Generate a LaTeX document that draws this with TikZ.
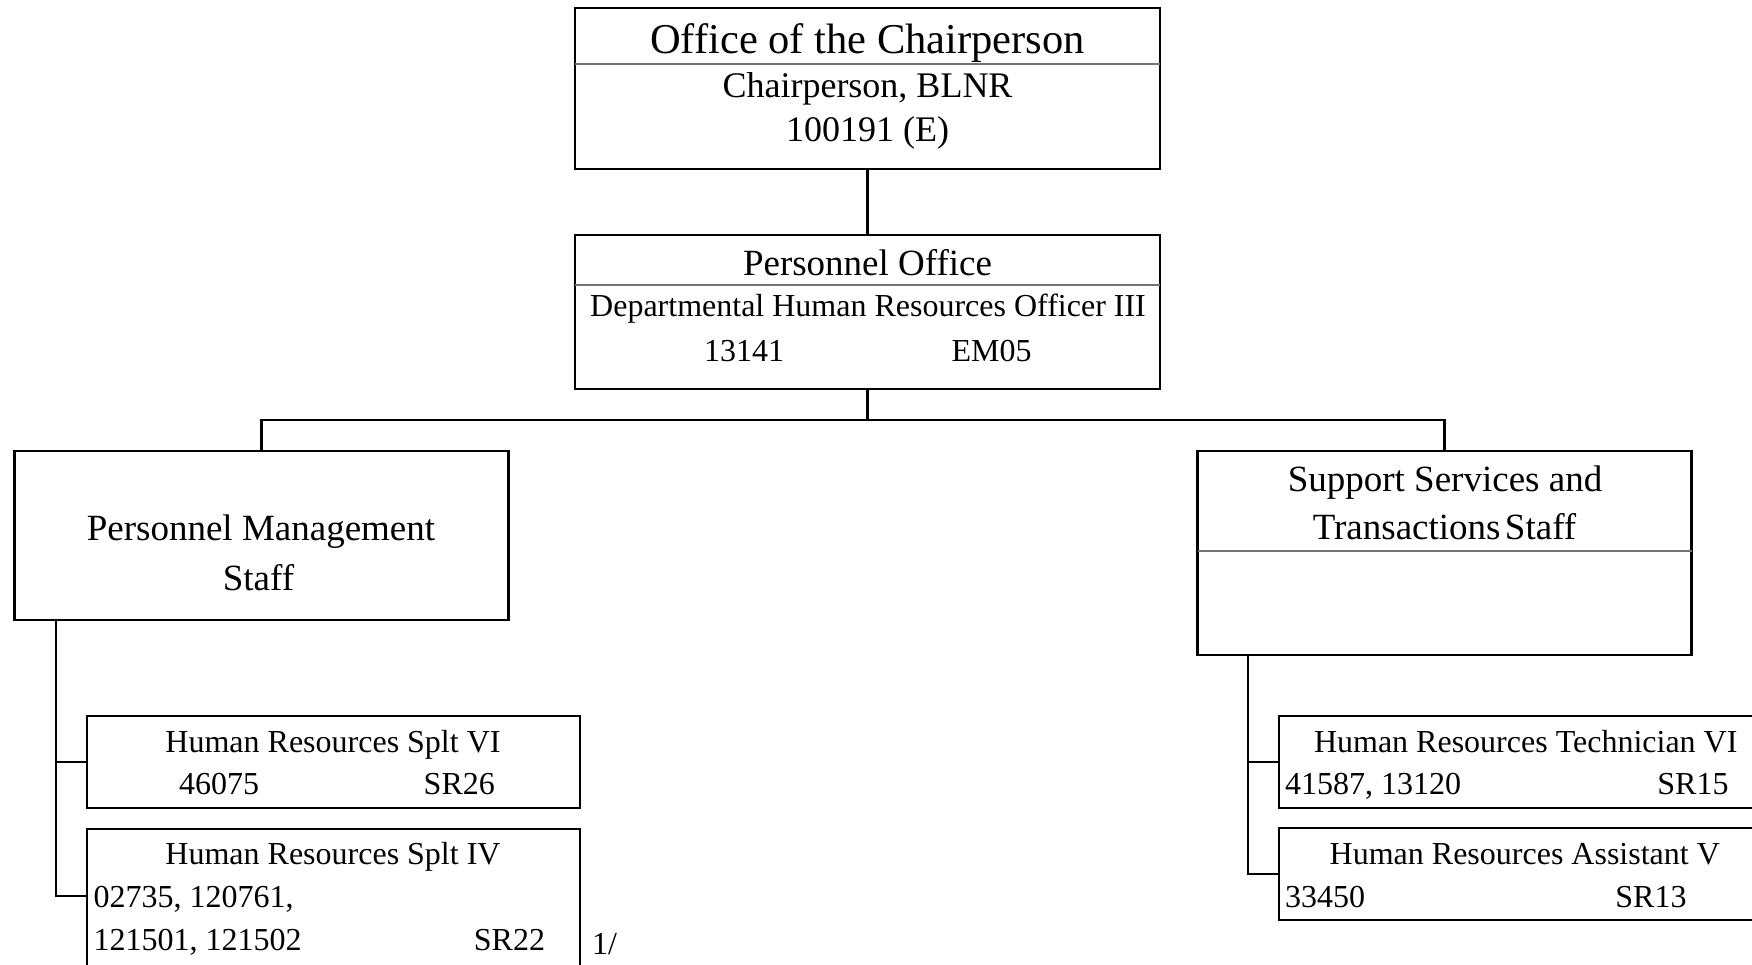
\documentclass[tikz,border=0pt]{standalone}
\usepackage{fontspec}
\setmainfont{Liberation Serif}
\begin{document}
\begin{tikzpicture}[x=1pt,y=-1pt,
  box/.style={draw, line width=2.6pt, inner sep=0pt, outer sep=0pt},
  conn/.style={line width=2.6pt},
  divline/.style={line width=1.3pt, black!55},
  t/.style={inner sep=0pt, anchor=base},
  tw/.style={inner sep=0pt, anchor=base west},
  fA/.style={font=\fontsize{42.5pt}{50pt}\selectfont},
  fB/.style={font=\fontsize{36pt}{42pt}\selectfont},
  fC/.style={font=\fontsize{37pt}{44pt}\selectfont},
  fD/.style={font=\fontsize{32pt}{38pt}\selectfont}]
\useasboundingbox (0,0) rectangle (1752,964);
\clip (0,0) rectangle (1752,964);

% boxes
\node[box, minimum width=585pt, minimum height=161pt] (top) at (867.5,88.5) {};
\node[box, minimum width=585pt, minimum height=154pt] (po) at (867.5,312) {};
\node[box, minimum width=494pt, minimum height=169pt] (pms) at (261.5,535.5) {};
\node[box, minimum width=494pt, minimum height=204pt] (sst) at (1444.7,553) {};
\node[box, minimum width=493pt, minimum height=92pt] (s6) at (333.5,762) {};
\node[box, minimum width=493pt, minimum height=171pt] (s4) at (333.5,914.5) {};
\node[box, minimum width=493pt, minimum height=92pt] (t6) at (1525.5,762) {};
\node[box, minimum width=493pt, minimum height=92pt] (a5) at (1525.5,874) {};

% dividers
\coordinate (d1) at (0,64);
\coordinate (d2) at (0,285);
\coordinate (d3) at (0,551);
\draw[divline] (top.west |- d1) -- (top.east |- d1);
\draw[divline] (po.west |- d2) -- (po.east |- d2);
\draw[divline] (sst.west |- d3) -- (sst.east |- d3);

% connectors
\coordinate (bus) at (867.5,420);
\draw[conn] (top.south) -- (po.north);
\draw[conn] (po.south) -- (bus);
\draw[conn] (pms.north) -- (pms.north |- bus) -- (sst.north |- bus) -- (sst.north);
\coordinate (lt) at ([xshift=41.5pt]pms.south west);
\coordinate (s4j) at ([yshift=-67pt]s4.north west);
\draw[conn] (lt) |- (s6.west);
\draw[conn] (lt) |- (s4j);
\coordinate (rt) at ([xshift=50.3pt]sst.south west);
\draw[conn] (rt) |- (t6.west);
\draw[conn] (rt) |- (a5.west);

% texts
\node[t,fA] (tA) at (867.5,53) {Office of the Chairperson};
\node[t,fB] (tB) at (867.5,97.5) {Chairperson, BLNR};
\node[t,fB] (tC) at (867.5,141) {100191 (E)};
\node[t,fC] (pA) at (867.5,275) {Personnel Office};
\node[t,fD] (pB) at (868,316.5) {Departmental Human Resources Officer III};
\node[t,fD] (pC) at (744,361.5) {13141};
\node[t,fD] (pD) at (991.5,361.5) {EM05};
\node[t,fC] (mA) at (261,540.5) {Personnel Management};
\node[t,fC] (mB) at (258.5,590) {Staff};
\node[t,fC] (sA) at (1445,491.5) {Support Services and};
\node[t,fC] (sB) at (1444.5,539.5) {Transactions\hspace{0.12em}Staff};

\node[t,fD] (s6a) at (333,752) {Human Resources Splt VI};
\node[t,fD] (s6b) at (219,794) {46075};
\node[t,fD] (s6c) at (459.3,794) {SR26};
\node[t,fD] (s4a) at (333,864.5) {Human Resources Splt IV};
\node[tw,fD] (s4b) at (93.5,907) {02735, 120761,};
\node[tw,fD] (s4c) at (93.5,950.5) {121501, 121502};
\node[t,fD] (s4d) at (509.5,950.5) {SR22};
\node[tw,fD] (fn) at (592,954) {1/};

\node[t,fD] (t6a) at (1525.7,752) {Human Resources Technician VI};
\node[tw,fD] (t6b) at (1285,794) {41587, 13120};
\node[t,fD] (t6c) at (1693,794) {SR15};
\node[t,fD] (a5a) at (1524.8,864.5) {Human Resources Assistant V};
\node[tw,fD] (a5b) at (1285,907) {33450};
\node[t,fD] (a5c) at (1651,907) {SR13};
\end{tikzpicture}
\end{document}
